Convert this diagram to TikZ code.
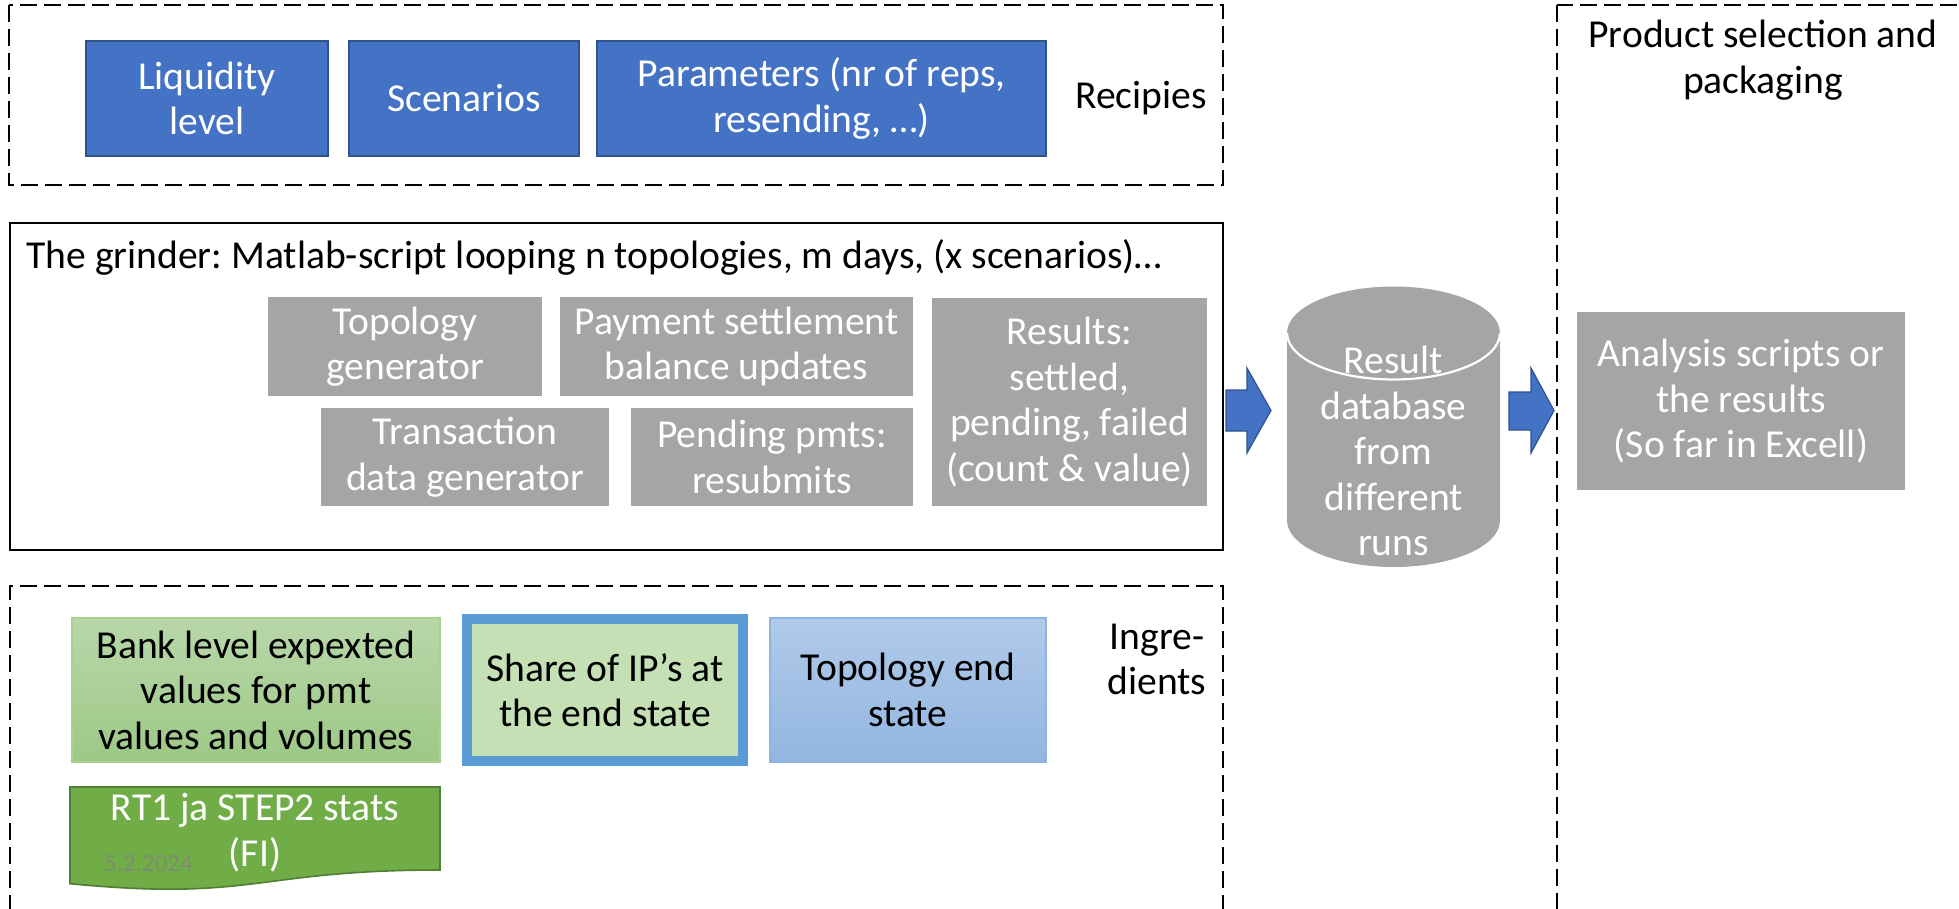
\documentclass[tikz,border=0pt]{standalone}
\usepackage{fontspec}
\setmainfont{Carlito}
\frenchspacing
\definecolor{blueF}{HTML}{4472C4}
\definecolor{blueD}{HTML}{2F528F}
\definecolor{grayF}{HTML}{A5A5A5}
\definecolor{greenT}{HTML}{B8D7AA}
\definecolor{greenB}{HTML}{9DC886}
\definecolor{greenL}{HTML}{A9D18E}
\definecolor{greenS}{HTML}{C5E0B4}
\definecolor{blueS}{HTML}{5B9BD5}
\definecolor{lblueT}{HTML}{B1CAE9}
\definecolor{lblueB}{HTML}{92B6E1}
\definecolor{lblueL}{HTML}{8EB4E3}
\definecolor{docF}{HTML}{70AD47}
\definecolor{docD}{HTML}{507E32}
\definecolor{dateC}{HTML}{7E8C72}
\begin{document}
\begin{tikzpicture}[x=0.5pt,y=-0.5pt,
  every node/.append style={font=\fontsize{19.8}{22.8}\selectfont},
  frame/.style={draw=black,line width=1.25pt,dash pattern=on 8.5pt off 3.5pt},
  solidframe/.style={draw=black,line width=1.25pt},
  bluebox/.style={draw=blueD,fill=blueF,line width=0.8pt,text=white,align=center,inner sep=0pt},
  graybox/.style={fill=grayF,text=white,align=center,inner sep=0pt},
  plain/.style={align=center,inner sep=0pt},
  arrowshape/.style={fill=blueF,draw=blueD,line width=0.6pt}]
\useasboundingbox (0,0) rectangle (1959,909);
\clip (0,0) rectangle (1959,909);

% Recipies
\draw[frame] (9,5) rectangle (1223,185);
\node[bluebox,minimum width=121pt,minimum height=57.5pt] (liq) at (207,98.5) {Liquidity\\level};
\node[bluebox,minimum width=115pt,minimum height=57.5pt] (scen) at (464,98.5) {Scenarios};
\node[bluebox,minimum width=224.5pt,minimum height=57.5pt] (param) at (821.5,98.5) {Parameters (nr of reps,\\resending, …)};
\node[plain] (recip) at (1141,98) {Recipies};

% Grinder
\draw[solidframe] (10,223) rectangle (1223,550);
\node[anchor=west,inner sep=0pt] (title) at (26,257) {The grinder: Matlab-script looping n topologies, m days, (x scenarios)…};
\node[graybox,minimum width=137pt,minimum height=49.5pt] (topo) at (405,346.5) {Topology\\generator};
\node[graybox,minimum width=176.5pt,minimum height=49.5pt] (pay) at (736.5,346.5) {Payment settlement\\balance updates};
\node[graybox,minimum width=144pt,minimum height=49pt] (trans) at (465,457) {Transaction\\data generator};
\node[graybox,minimum width=141pt,minimum height=49pt] (pend) at (772,457) {Pending pmts:\\resubmits};
\node[graybox,minimum width=137.5pt,minimum height=104pt] (res) at (1069.5,402) {Results:\\settled,\\pending, failed\\(count \& value)};

% Arrow 1
\filldraw[arrowshape] (1226,390) -- (1247,390) -- (1247,368) -- (1271,410.5) -- (1247,453) -- (1247,431) -- (1226,431) -- cycle;

% Database cylinder
\fill[grayF] (1287,333) -- (1287,520.5) arc[start angle=180,end angle=360,x radius=53.25pt,y radius=23.25pt] -- (1500,333) arc[start angle=0,end angle=180,x radius=53.25pt,y radius=23.25pt] -- cycle;
\draw[white,line width=1.1pt] (1287,333) arc[start angle=180,end angle=360,x radius=53.25pt,y radius=23.25pt];
\node[plain,text=white] (db) at (1393.5,451) {Result\\database\\from\\different\\runs};

% Arrow 2
\filldraw[arrowshape] (1509,392) -- (1531,392) -- (1531,368) -- (1554,410.5) -- (1531,453) -- (1531,430) -- (1509,430) -- cycle;

% Product selection
\draw[frame] (1557,5) rectangle (1990,960);
\node[plain] (prod) at (1763,60) {Product selection and\\packaging};
\node[graybox,minimum width=164pt,minimum height=89pt] (anal) at (1741,401) {Analysis scripts or\\the results\\(So far in Excell)};

% Ingredients
\draw[frame] (10,960) -- (10,586) -- (1223,586) -- (1223,960);
\node[plain] (ingr) at (1157,659.5) {Ingre-\\dients};
\node[plain,draw=greenL,line width=0.6pt,top color=greenT,bottom color=greenB,minimum width=184pt,minimum height=72pt] (bank) at (256,690) {Bank level expexted\\values for pmt\\values and volumes};
\node[plain,draw=blueS,fill=greenS,line width=5pt,minimum width=138pt,minimum height=71pt] (share) at (605,690) {Share of IP’s at\\the end state};
\node[plain,draw=lblueL,line width=0.8pt,top color=lblueT,bottom color=lblueB,minimum width=138pt,minimum height=72pt] (tend) at (908,690) {Topology end\\state};

% RT1 document shape
\filldraw[fill=docF,draw=docD,line width=0.8pt] (70,787) -- (440,787) -- (440,870) .. controls (255,870) and (255,901.6) .. (70,883.7) -- cycle;
\node[plain,text=dateC,font=\fontsize{12.5}{15}\selectfont] (date) at (148.5,863) {5.2.2024};
\node[plain,text=white] (rt1) at (255,832.5) {RT1 ja STEP2 stats\\(FI)};
\end{tikzpicture}
\end{document}
